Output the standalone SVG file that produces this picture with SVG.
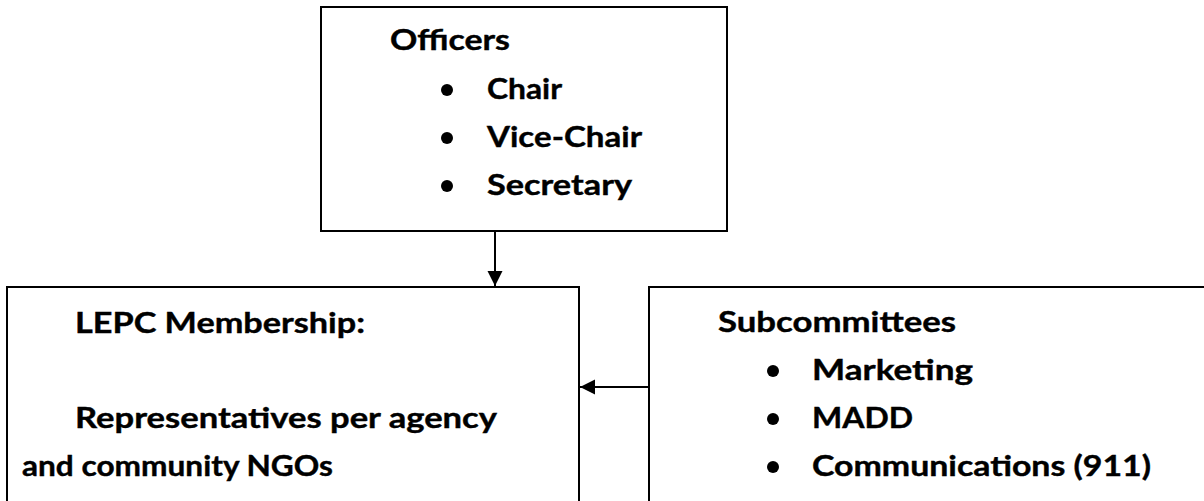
<svg xmlns="http://www.w3.org/2000/svg" width="1204" height="501" viewBox="0 0 1204 501">
<style>
.box{fill:#fff;stroke:#000;stroke-width:2}
.t{font-family:Lato,"Open Sans","Liberation Sans",sans-serif;font-weight:bold;font-size:29px;fill:#000;stroke:#000;stroke-width:0.4}
.conn{stroke:#000;stroke-width:2;fill:none}
</style>
<defs>
<marker id="ah" viewBox="0 0 10 10" refX="10" refY="5" markerWidth="7.5" markerHeight="8" orient="auto" markerUnits="strokeWidth">
<path d="M0,0 L10,5 L0,10 z" fill="#000"/>
</marker>
</defs>
<rect width="1204" height="501" fill="#fff"/>
<g id="officers">
<rect class="box" x="321" y="7" width="406" height="224"/>
<text class="t" x="390" y="50" textLength="120" lengthAdjust="spacingAndGlyphs">Officers</text>
<circle cx="447" cy="90" r="6"/>
<text class="t" x="487" y="99" textLength="75" lengthAdjust="spacingAndGlyphs">Chair</text>
<circle cx="447" cy="138" r="6"/>
<text class="t" x="487" y="147" textLength="155" lengthAdjust="spacingAndGlyphs">Vice-Chair</text>
<circle cx="447" cy="186" r="6"/>
<text class="t" x="487" y="195" textLength="145" lengthAdjust="spacingAndGlyphs">Secretary</text>
</g>
<g id="membership">
<rect class="box" x="7" y="287" width="572" height="230"/>
<text class="t" x="75" y="333" textLength="290" lengthAdjust="spacingAndGlyphs">LEPC Membership:</text>
<text class="t" x="75" y="428" textLength="422" lengthAdjust="spacingAndGlyphs">Representatives per agency</text>
<text class="t" x="22" y="476" textLength="311" lengthAdjust="spacingAndGlyphs">and community NGOs</text>
</g>
<g id="subcommittees">
<rect class="box" x="649" y="287" width="570" height="230"/>
<text class="t" x="718" y="332" textLength="238" lengthAdjust="spacingAndGlyphs">Subcommittees</text>
<circle cx="773" cy="371" r="6"/>
<text class="t" x="812" y="380" textLength="161" lengthAdjust="spacingAndGlyphs">Marketing</text>
<circle cx="773" cy="419" r="6"/>
<text class="t" x="812" y="428" textLength="101" lengthAdjust="spacingAndGlyphs">MADD</text>
<circle cx="773" cy="467" r="6"/>
<text class="t" x="812" y="476" textLength="339" lengthAdjust="spacingAndGlyphs">Communications (911)</text>
</g>
<g id="connectors">
<line class="conn" x1="495" y1="231" x2="495" y2="286" marker-end="url(#ah)"/>
<line class="conn" x1="649" y1="387" x2="580" y2="387" marker-end="url(#ah)"/>
</g>
</svg>
